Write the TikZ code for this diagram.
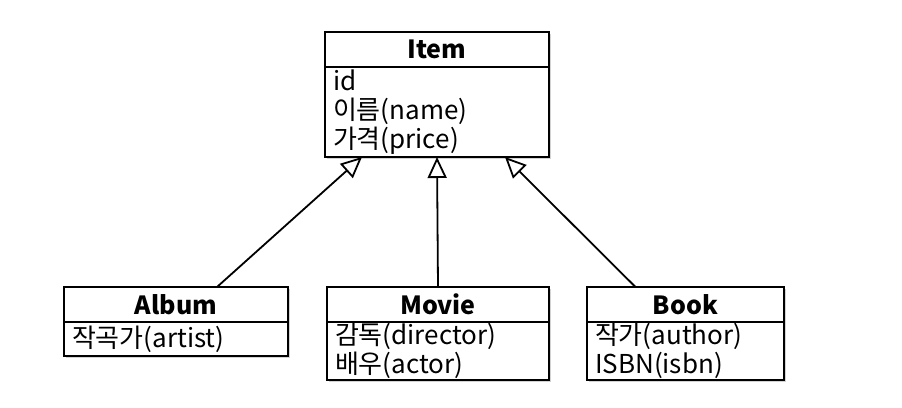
\documentclass[tikz,border=0pt]{standalone}
\usepackage{fontspec}
\setmainfont{Noto Sans CJK KR}
\usepackage{tikz}
\usetikzlibrary{arrows.meta,positioning,shadows}

\begin{document}
\begin{tikzpicture}[x=1pt, y=-1pt, font=\fontsize{26}{29}\selectfont,
  cls/.style={draw, line width=2.2pt, outer sep=0pt, fill=white, drop shadow={shadow xshift=1.5pt, shadow yshift=-2pt, opacity=0.35}},
  head/.style={cls, font=\fontsize{25}{29}\selectfont\bfseries, minimum height=35pt, inner sep=0pt},
  attr/.style={cls, align=left, inner xsep=8pt, inner ysep=0pt},
  gen/.style={-{Triangle[open, length=21pt, width=19pt]}, line width=1.8pt}]
\useasboundingbox (0,0) rectangle (902,407);
% superclass
\node[head, minimum width=224pt] (item) at (437,49.5) {Item};
\node[attr, text width=208pt, minimum height=90pt, below=0pt of item] (itemb) {id\\이름(name)\\가격(price)};
% subclasses
\node[head, minimum width=224pt] (album) at (176,304.5) {Album};
\node[attr, text width=208pt, minimum height=34pt, below=0pt of album] (albumb) {작곡가(artist)};
\node[head, minimum width=222pt] (movie) at (438,304.5) {Movie};
\node[attr, text width=206pt, minimum height=58pt, below=0pt of movie] (movieb) {감독(director)\\배우(actor)};
\node[head, minimum width=197pt] (book) at (685.5,304.5) {Book};
\node[attr, text width=181pt, minimum height=58pt, below=0pt of book] (bookb) {작가(author)\\ISBN(isbn)};
% generalisation
\foreach \a/\s/\t in {album/41/-75, movie/0/0, book/-50/68}
  \draw[gen] ([xshift=\s pt]\a.north) -- ([xshift=\t pt]itemb.south);
\end{tikzpicture}
\end{document}
